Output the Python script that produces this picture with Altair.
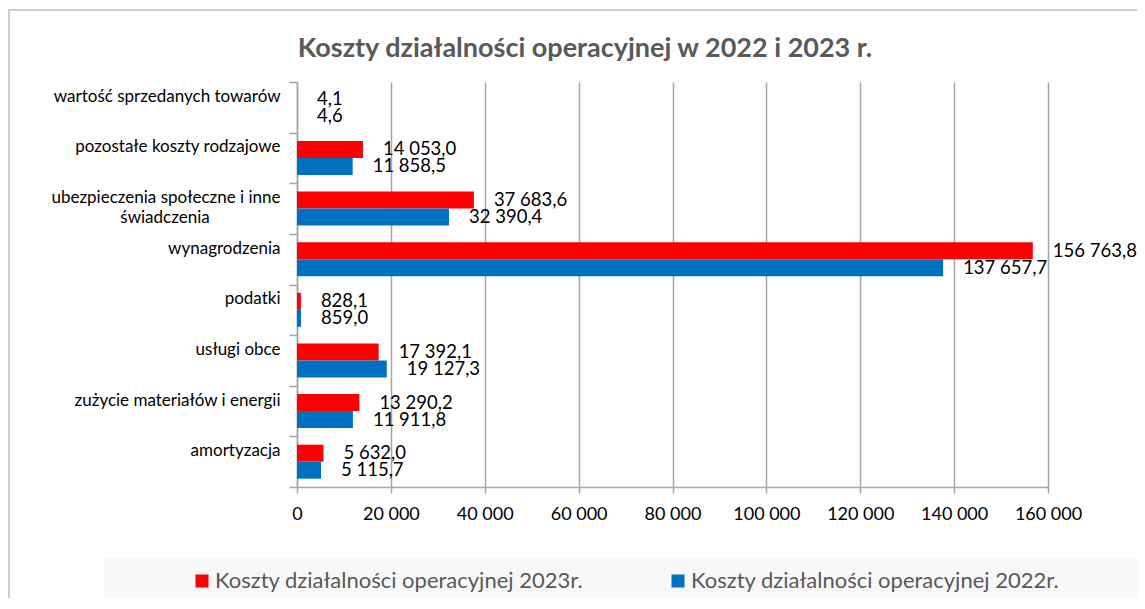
import altair as alt
import pandas as pd

categories = [
    "wartość sprzedanych towarów",
    "pozostałe koszty rodzajowe",
    "ubezpieczenia społeczne i inne|świadczenia",
    "wynagrodzenia",
    "podatki",
    "usługi obce",
    "zużycie materiałów i energii",
    "amortyzacja",
]
values_2023 = [4.1, 14053.0, 37683.6, 156763.8, 828.1, 17392.1, 13290.2, 5632.0]
values_2022 = [4.6, 11858.5, 32390.4, 137657.7, 859.0, 19127.3, 11911.8, 5115.7]
series_names = [
    "Koszty działalności operacyjnej 2023r.",
    "Koszty działalności operacyjnej 2022r.",
]
series_colors = ["#FF0000", "#0070C0"]
x_ticks = [0, 20000, 40000, 60000, 80000, 100000, 120000, 140000, 160000]
title_text = "Koszty działalności operacyjnej w 2022 i 2023 r."


def pl_fmt(v):
    return f"{v:,.1f}".replace(",", " ").replace(".", ",")


rows = []
for name, vals in zip(series_names, [values_2023, values_2022]):
    for c, v in zip(categories, vals):
        rows.append({"cat": c, "series": name, "value": v, "label": pl_fmt(v)})
df = pd.DataFrame(rows)

# second line of the two-line category label, drawn centred under the first line
wrap_rows = [{"cat": c, "line2": c.split("|")[1]} for c in categories if "|" in c]
wrap_df = pd.DataFrame(wrap_rows)

FONT = "Lato"

y_axis = alt.Axis(
    title=None,
    domainColor="#a6a6a6",
    domainWidth=1.5,
    tickColor="#a6a6a6",
    tickWidth=1.5,
    tickSize=8,
    tickBand="extent",
    labelFont=FONT,
    labelFontSize=17,
    labelColor="#000000",
    labelPadding=9,
    labelOffset=-11,
    labelLimit=400,
    labelExpr="split(datum.label, '|')[0]",
    grid=False,
)
x_axis = alt.Axis(
    title=None,
    values=x_ticks,
    grid=True,
    gridColor="#a6a6a6",
    gridWidth=1.5,
    domainColor="#a6a6a6",
    domainWidth=1.5,
    tickColor="#a6a6a6",
    tickWidth=1.5,
    tickSize=6,
    labelFont=FONT,
    labelFontSize=18,
    labelColor="#000000",
    labelPadding=12,
    labelOverlap=False,
    labelFlush=False,
    labelExpr="replace(format(datum.value, ','), ',', ' ')",
)

y_scale = alt.Scale(domain=categories, paddingInner=0, paddingOuter=0)
y_enc = alt.Y("cat:N", sort=categories, scale=y_scale, axis=y_axis)
x_enc = alt.X("value:Q", scale=alt.Scale(domain=[0, 160000], nice=False), axis=x_axis)
yoff_enc = alt.YOffset("series:N", sort=series_names, scale=alt.Scale(paddingInner=0, paddingOuter=0.49))

base = alt.Chart(df)

bars = base.mark_bar().encode(
    y=y_enc,
    x=x_enc,
    yOffset=yoff_enc,
    color=alt.Color(
        "series:N",
        sort=series_names,
        scale=alt.Scale(domain=series_names, range=series_colors),
        legend=alt.Legend(
            title=None,
            orient="none",
            legendX=-106,
            legendY=488,
            direction="horizontal",
            symbolType="square",
            symbolSize=169,
            symbolStrokeWidth=0,
            labelFont=FONT,
            labelFontSize=22,
            labelColor="#595959",
            labelOffset=2,
            labelLimit=800,
            columnPadding=83,
            padding=0,
        ),
    ),
)

texts = base.mark_text(align="left", baseline="middle", dx=20, font=FONT, fontSize=18.5, color="#000000").encode(
    y=y_enc,
    x=x_enc,
    yOffset=yoff_enc,
    text="label:N",
)

wrap_text = alt.Chart(wrap_df).mark_text(
    align="center", baseline="middle", dy=9, font=FONT, fontSize=17, color="#000000"
).encode(
    y=alt.Y("cat:N", sort=categories, scale=y_scale, axis=y_axis),
    x=alt.value(-132),
    text="line2:N",
)

deco_df = pd.DataFrame({"t": [title_text]})
legend_bg = alt.Chart(deco_df).mark_rect(color="#f8f8f8").encode(
    x=alt.value(-193), x2=alt.value(900), y=alt.value(476), y2=alt.value(521)
)
frame = alt.Chart(deco_df).mark_rect(fillOpacity=0, stroke="#bfbfbf", strokeWidth=1.5).encode(
    x=alt.value(-288), x2=alt.value(900), y=alt.value(-72), y2=alt.value(700)
)
title = alt.Chart(deco_df).mark_text(
    align="center", baseline="alphabetic", font=FONT, fontSize=27, fontWeight="bold", color="#595959"
).encode(x=alt.value(288), y=alt.value(-25), text="t:N")

chart = alt.layer(frame, legend_bg, title, bars, texts, wrap_text).properties(
    width=751,
    height=405,
    autosize=alt.AutoSizeParams(type="none"),
    padding={"left": 289, "top": 74, "right": 89, "bottom": 111},
).configure_view(stroke=None)

chart.save("out.html", embed_options={"renderer": "svg", "actions": False})
